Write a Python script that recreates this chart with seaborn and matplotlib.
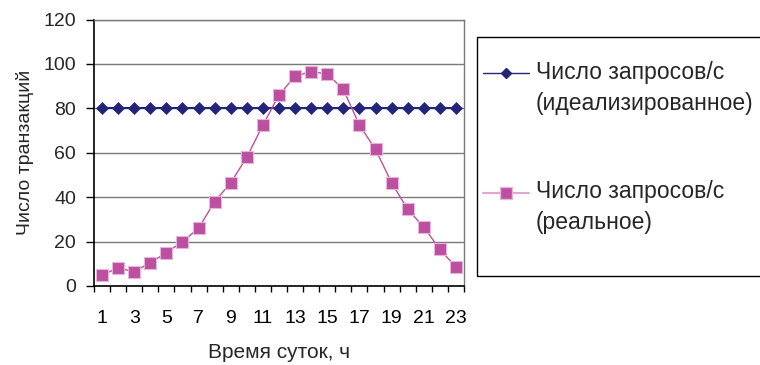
import matplotlib
matplotlib.use("Agg")
import matplotlib.pyplot as plt
import seaborn as sns
import numpy as np
from matplotlib.lines import Line2D
from matplotlib.patches import Rectangle
from matplotlib.legend_handler import HandlerLine2D

hours = list(range(1, 24))
ideal = [80] * 23
real = [5, 8, 6.5, 10.5, 15, 20, 26, 38, 46.5, 58, 72.5, 86, 94.5, 96.5, 95.5, 88.5, 72.5, 61.5, 46.5, 34.5, 26.5, 16.5, 8.5]
label_ideal = "Число запросов/с\n(идеализированное)"
label_real = "Число запросов/с\n(реальное)"
xlabel = "Время суток, ч"
ylabel = "Число транзакций"
yticks = [0, 20, 40, 60, 80, 100, 120]

sns.set_style("white")
plt.rcParams['font.family'] = ['Liberation Sans', 'DejaVu Sans']

NAVY = "#24247A"
MAG = "#BC4FA0"
MAG_EDGE = "#E6B3D9"

fig = plt.figure(figsize=(7.6, 3.65), dpi=100)
ax = fig.add_axes([94/760, (365-286)/365, (464-94)/760, (286-19.5)/365])

sns.lineplot(x=hours, y=ideal, ax=ax, color=NAVY, lw=1.5, marker="D", markersize=5.8,
             markeredgecolor=NAVY, markeredgewidth=0.5, zorder=4)
sns.lineplot(x=hours, y=real, ax=ax, color=MAG, lw=1.0, marker="s", markersize=8.5,
             markeredgecolor=MAG_EDGE, markeredgewidth=0.8, zorder=5)

ax.set_xlim(0.5, 23.5)
ax.set_ylim(0, 120)
ax.set_yticks(yticks)
ax.set_yticklabels([str(v) for v in yticks])
ax.set_xticks(hours)
ax.set_xticklabels([str(h) if h % 2 == 1 else "" for h in hours])
ax.set_xticks(np.arange(0.5, 24, 1), minor=True)
ax.tick_params(axis="x", which="major", length=0, pad=17, labelsize=14, colors="black")
ax.tick_params(axis="x", which="minor", length=4.5, width=1, color="black", direction="out", bottom=True)
ax.tick_params(axis="y", which="major", length=5.5, width=1, color="black", direction="out",
               left=True, pad=7.5, labelsize=14)
ax.yaxis.grid(True, color="#7a7a7a", lw=1)
ax.set_axisbelow(True)
for s in ["left", "bottom"]:
    ax.spines[s].set_color("black")
    ax.spines[s].set_linewidth(1.2)
for s in ["top", "right"]:
    ax.spines[s].set_color("#7a7a7a")
    ax.spines[s].set_linewidth(1)
ax.set_xlabel(xlabel, fontsize=15, labelpad=12)
ax.set_ylabel(ylabel, fontsize=14, labelpad=7)


class TopHandler(HandlerLine2D):
    def __init__(self, shift, **kw):
        super().__init__(**kw)
        self.shift = shift

    def create_artists(self, legend, orig_handle, xdescent, ydescent, width, height, fontsize, trans):
        arts = super().create_artists(legend, orig_handle, xdescent, ydescent, width, height, fontsize, trans)
        for a in arts:
            a.set_ydata(np.asarray(a.get_ydata()) + self.shift)
        return arts


h1 = Line2D([], [], color=NAVY, lw=1, marker="D", markersize=5.5, markeredgecolor=NAVY)
h2 = Line2D([], [], color="#E2A6D2", lw=1.5, marker="s", markersize=8, markerfacecolor=MAG,
            markeredgecolor=MAG_EDGE)

fig.patches.append(Rectangle((477/760, (365-276)/365), (770-477)/760, 239/365,
                             transform=fig.transFigure, fill=False, edgecolor="black", lw=1))

leg = fig.legend([h1, h2], [label_ideal, label_real], loc="upper left",
                 bbox_to_anchor=(474/760, (365-51.5)/365), frameon=False, fontsize=16.5,
                 handlelength=2.0, handletextpad=0.3, labelspacing=2.85, borderaxespad=0,
                 handler_map={h1: TopHandler(11), h2: TopHandler(11)})
for t in leg.get_texts():
    t.set_linespacing(1.45)

fig.savefig("out.png", dpi=100)
